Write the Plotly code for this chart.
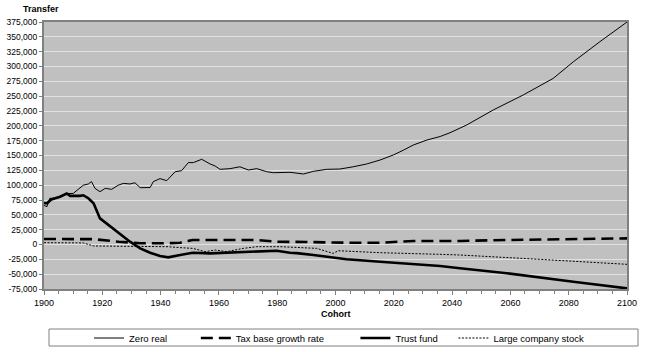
import plotly.graph_objects as go

# ---- data ----
zr_years = [1900, 1901, 1902, 1904, 1905.5, 1907.8, 1910, 1913.5, 1915.2, 1916.3, 1917.5, 1919.2,
            1921, 1923.2, 1925.5, 1927.2, 1929.5, 1931.2, 1933, 1936.4, 1937.5, 1939.8, 1942.1,
            1945, 1947.2, 1949.5, 1951.2, 1954.1, 1957, 1958.7, 1960.4, 1963.8, 1967.2, 1970.1,
            1973, 1976.4, 1978.7, 1984.4, 1989, 1992.4, 1997, 2001.5, 2006.1, 2010.7, 2015.3,
            2019.8, 2023.3, 2026.7, 2031.3, 2035.9, 2039.3, 2045, 2054.1, 2064.4, 2074.7, 2081.6,
            2090.7, 2100]
zr_vals = [66000, 63700, 77800, 78000, 79500, 86000, 86000, 100000, 102000, 106000, 94600, 89000,
           94600, 93000, 100000, 103000, 102000, 104000, 95800, 96000, 106000, 111000, 107600,
           122700, 124400, 138000, 138000, 143600, 135700, 132300, 126700, 127800, 131000, 125600,
           127800, 122700, 121000, 121700, 118800, 123300, 126700, 127200, 131000, 135700, 142400,
           150800, 159000, 167700, 176000, 182000, 188400, 201400, 226700, 252000, 280000, 308000,
           341800, 375000]

tb_years = [1900, 1912.3, 1917, 1925.6, 1930, 1933, 1941, 1946.7, 1951, 1959, 1968, 1973, 1980,
            1984.4, 1990, 2003.8, 2015.3, 2026.7, 2042.7, 2058.8, 2081.6, 2100]
tb_vals = [9300, 9300, 9000, 4700, 3000, 2000, 2000, 3000, 7600, 7600, 8800, 7600, 4700,
           4700, 4200, 3000, 3000, 5900, 5900, 7600, 9300, 10400]

tf_years = [1900, 1901, 1902.5, 1905.5, 1907.8, 1909, 1912.3, 1913.5, 1915.2, 1917, 1919.2, 1922.6,
            1926, 1929.5, 1933, 1936.4, 1939.8, 1942.6, 1946.7, 1951, 1957, 1962.7, 1968.4, 1974,
            1979.8, 1984.4, 1986.7, 1992.4, 1998.1, 2003.8, 2015.3, 2026.7, 2035.9, 2042.7,
            2058.8, 2081.6, 2100]
tf_vals = [70000, 69400, 76000, 80600, 86000, 82000, 82000, 83000, 78000, 69400, 44000, 31000,
           19000, 4700, -6500, -13800, -19400, -21600, -17700, -13800, -15000, -13800, -12000, -11000,
           -10500, -13800, -14500, -17700, -21600, -25000, -29000, -32900, -36200, -40000,
           -48500, -62700, -73900]

lc_years = [1900, 1913.5, 1917, 1927, 1942.6, 1946.7, 1951, 1955.3, 1958.8, 1962.7, 1968.4, 1973,
            1981, 1993.5, 1999.2, 2001, 2015.3, 2035.9, 2042.7, 2070, 2100]
lc_vals = [3000, 2700, -2500, -2500, -3700, -5300, -6500, -12000, -9300, -12000, -6500, -3700,
           -3700, -6500, -15000, -10500, -13800, -16600, -17700, -25000, -33400]

series_names = ["Zero real", "Tax base growth rate", "Trust fund", "Large company stock"]

y_ticks = list(range(-75000, 375001, 25000))
y_tick_labels = [f"{v:,}" for v in y_ticks]
x_ticks = list(range(1900, 2101, 20))

font = "Liberation Sans, Arial, sans-serif"
NB = "\u00a0"
pad = [9, 10, 4, 0]  # trailing spacing for legend entries
legend_names = [n + NB * p for n, p in zip(series_names, pad)]

fig = go.Figure()
fig.add_trace(go.Scatter(x=zr_years, y=zr_vals, mode="lines", name=legend_names[0],
                         line=dict(color="black", width=1)))
fig.add_trace(go.Scatter(x=tb_years, y=tb_vals, mode="lines", name=legend_names[1],
                         line=dict(color="black", width=2.6, dash="12px,6px")))
fig.add_trace(go.Scatter(x=tf_years, y=tf_vals, mode="lines", name=legend_names[2],
                         line=dict(color="black", width=2.6)))
fig.add_trace(go.Scatter(x=lc_years, y=lc_vals, mode="lines", name=legend_names[3],
                         line=dict(color="black", width=1, dash="2px,1.5px")))

fig.update_layout(
    width=650, height=352,
    margin=dict(l=44, r=23, t=22, b=63, autoexpand=False),
    paper_bgcolor="white",
    plot_bgcolor="#C0C0C0",
    font=dict(family=font, size=9, color="black"),
    showlegend=True,
    legend=dict(orientation="h", xref="container", yref="container",
                x=0.137, xanchor="left", y=1 - 338 / 352, yanchor="middle",
                borderwidth=0, bgcolor="rgba(0,0,0,0)",
                entrywidth=0, itemwidth=30,
                font=dict(family=font, size=9.5), tracegroupgap=0),
    shapes=[dict(type="rect", xref="paper", yref="paper",
                 x0=5 / 583, x1=594 / 583, y0=-57 / 267, y1=-40 / 267,
                 line=dict(color="#808080", width=1), fillcolor="white", layer="below")],
    xaxis=dict(range=[1900, 2100], tickvals=x_ticks, ticks="outside", ticklen=4,
               tickcolor="#808080", showgrid=False, zeroline=False,
               showline=True, linecolor="#808080", linewidth=2, mirror=True,
               minor=dict(dtick=5, tick0=1900, ticks="outside", ticklen=3, tickcolor="#808080"),
               tickfont=dict(size=9)),
    yaxis=dict(range=[-75000, 375000], tickvals=y_ticks, ticktext=y_tick_labels,
               ticks="outside", ticklen=3, tickcolor="#808080",
               showgrid=True, gridcolor="#E2E2E2", gridwidth=1, zeroline=False,
               showline=True, linecolor="#808080", linewidth=2, mirror=True,
               tickfont=dict(size=8.5)),
    annotations=[
        dict(text="<b>Transfer</b>", xref="paper", yref="paper", x=-0.005, y=1.0,
             xanchor="center", yanchor="bottom", yshift=6, showarrow=False,
             font=dict(size=9)),
        dict(text="<b>Cohort</b>", xref="paper", yref="paper", x=0.5, y=0,
             xanchor="center", yanchor="top", yshift=-18, showarrow=False,
             font=dict(size=9)),
    ],
)

fig.write_html("out.html")
